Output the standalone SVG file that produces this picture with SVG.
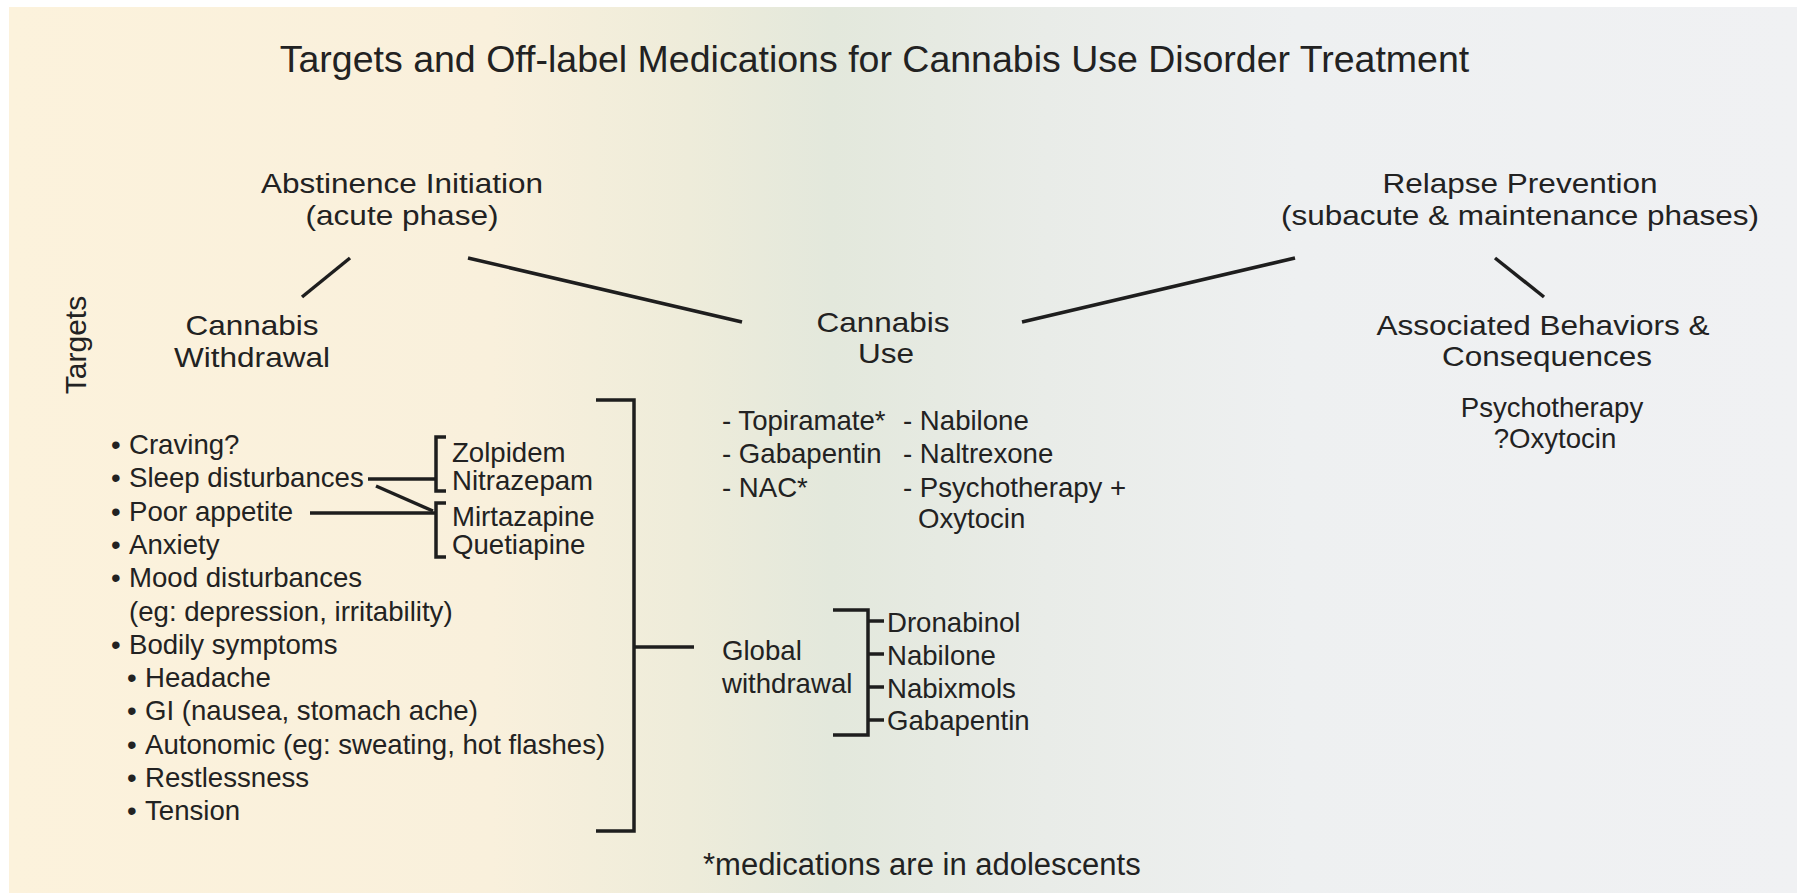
<svg xmlns="http://www.w3.org/2000/svg" width="1799" height="896" viewBox="0 0 1799 896">
<defs>
<linearGradient id="bg" x1="0" y1="0" x2="1" y2="0">
<stop offset="0" stop-color="#fcf2dc"/>
<stop offset="0.27" stop-color="#f9f0dc"/>
<stop offset="0.38" stop-color="#eeecda"/>
<stop offset="0.46" stop-color="#e3e8dc"/>
<stop offset="0.58" stop-color="#e9ece8"/>
<stop offset="0.72" stop-color="#eef0f1"/>
<stop offset="1" stop-color="#f0f1f3"/>
</linearGradient>
<style>
text{font-family:"Liberation Sans",Arial,sans-serif;fill:#222;}
.title{font-size:37.5px;text-anchor:middle;}
.head{font-size:27.5px;text-anchor:middle;}
.item{font-size:27.6px;}
.mid{text-anchor:middle;}
.ln{stroke:#1e1e1e;stroke-width:3.5;fill:none;stroke-linecap:butt;}
.br{stroke:#1e1e1e;stroke-width:3.5;fill:none;stroke-linejoin:miter;}
</style>
</defs>
<rect width="1799" height="896" fill="#ffffff"/>
<rect x="9" y="7" width="1788" height="886" fill="url(#bg)"/>

<text class="title" x="874.5" y="72">Targets and Off-label Medications for Cannabis Use Disorder Treatment</text>

<g id="connectors">
<line class="ln" x1="350" y1="258" x2="302" y2="297"/>
<line class="ln" x1="468" y1="258" x2="742" y2="322"/>
<line class="ln" x1="1022" y1="322" x2="1295" y2="258"/>
<line class="ln" x1="1495" y1="258" x2="1544" y2="297"/>
<line class="ln" x1="368" y1="479" x2="435" y2="479"/>
<line class="ln" x1="376" y1="486" x2="433" y2="511"/>
<line class="ln" x1="310" y1="513" x2="435" y2="513"/>
<path class="br" d="M596,400 H634 V831 H596"/>
<line class="ln" x1="634" y1="647" x2="694" y2="647"/>
<path class="br" d="M833,610 H868 V735 H833"/>
<line class="ln" x1="868" y1="621" x2="884" y2="621"/>
<line class="ln" x1="868" y1="654" x2="884" y2="654"/>
<line class="ln" x1="868" y1="687" x2="884" y2="687"/>
<line class="ln" x1="868" y1="720" x2="884" y2="720"/>
</g>

<g id="abstinence">
<text class="head" x="402" y="193" textLength="282" lengthAdjust="spacingAndGlyphs">Abstinence Initiation</text>
<text class="head" x="402" y="225" textLength="193" lengthAdjust="spacingAndGlyphs">(acute phase)</text>
</g>

<g id="relapse">
<text class="head" x="1520" y="193" textLength="275" lengthAdjust="spacingAndGlyphs">Relapse Prevention</text>
<text class="head" x="1520" y="225" textLength="478" lengthAdjust="spacingAndGlyphs">(subacute &amp; maintenance phases)</text>
</g>

<g id="targets-label">
<text transform="translate(86,345) rotate(-90)" style="font-size:30px;text-anchor:middle;">Targets</text>
</g>

<g id="withdrawal">
<text class="head" x="252" y="335" textLength="133" lengthAdjust="spacingAndGlyphs">Cannabis</text>
<text class="head" x="252" y="367" textLength="156" lengthAdjust="spacingAndGlyphs">Withdrawal</text>
</g>

<g id="cannabis-use">
<text class="head" x="883" y="332" textLength="133" lengthAdjust="spacingAndGlyphs">Cannabis</text>
<text class="head" x="886" y="363" textLength="56" lengthAdjust="spacingAndGlyphs">Use</text>
</g>

<g id="associated">
<text class="head" x="1543" y="335" textLength="333" lengthAdjust="spacingAndGlyphs">Associated Behaviors &amp;</text>
<text class="head" x="1547" y="366" textLength="210" lengthAdjust="spacingAndGlyphs">Consequences</text>
<text class="item mid" x="1552" y="417">Psychotherapy</text>
<text class="item mid" x="1555" y="448">?Oxytocin</text>
</g>

<g id="symptoms">
<text class="item" y="454"><tspan x="111">•</tspan><tspan x="129">Craving?</tspan></text>
<text class="item" y="487.3"><tspan x="111">•</tspan><tspan x="129">Sleep disturbances</tspan></text>
<text class="item" y="520.6"><tspan x="111">•</tspan><tspan x="129">Poor appetite</tspan></text>
<text class="item" y="554"><tspan x="111">•</tspan><tspan x="129">Anxiety</tspan></text>
<text class="item" y="587.2"><tspan x="111">•</tspan><tspan x="129">Mood disturbances</tspan></text>
<text class="item" x="129" y="620.5">(eg: depression, irritability)</text>
<text class="item" y="653.8"><tspan x="111">•</tspan><tspan x="129">Bodily symptoms</tspan></text>
<text class="item" y="687.1"><tspan x="127">•</tspan><tspan x="145">Headache</tspan></text>
<text class="item" y="720.4"><tspan x="127">•</tspan><tspan x="145">GI (nausea, stomach ache)</tspan></text>
<text class="item" y="753.7"><tspan x="127">•</tspan><tspan x="145">Autonomic (eg: sweating, hot flashes)</tspan></text>
<text class="item" y="787"><tspan x="127">•</tspan><tspan x="145">Restlessness</tspan></text>
<text class="item" y="820.3"><tspan x="127">•</tspan><tspan x="145">Tension</tspan></text>
</g>

<g id="sleep-meds">
<path class="br" d="M446,437 H436 V491 H446"/>
<text class="item" x="452" y="462">Zolpidem</text>
<text class="item" x="452" y="490">Nitrazepam</text>
</g>

<g id="appetite-meds">
<path class="br" d="M446,503 H436 V557 H446"/>
<text class="item" x="452" y="526">Mirtazapine</text>
<text class="item" x="452" y="554">Quetiapine</text>
</g>

<g id="use-meds">
<text class="item" x="722" y="430">- Topiramate*</text>
<text class="item" x="722" y="463">- Gabapentin</text>
<text class="item" x="722" y="497">- NAC*</text>
<text class="item" x="903" y="430">- Nabilone</text>
<text class="item" x="903" y="463">- Naltrexone</text>
<text class="item" x="903" y="497">- Psychotherapy +</text>
<text class="item" x="918" y="528">Oxytocin</text>
</g>

<g id="global-withdrawal">
<text class="item" x="722" y="660">Global</text>
<text class="item" x="722" y="693">withdrawal</text>
<text class="item" x="887" y="632">Dronabinol</text>
<text class="item" x="887" y="665">Nabilone</text>
<text class="item" x="887" y="698">Nabixmols</text>
<text class="item" x="887" y="730">Gabapentin</text>
</g>

<g id="footnote">
<text x="703" y="875" style="font-size:31px;">*medications are in adolescents</text>
</g>
</svg>
